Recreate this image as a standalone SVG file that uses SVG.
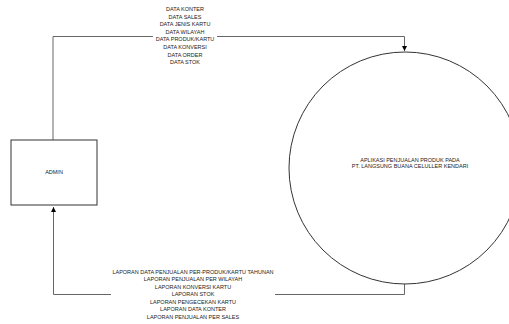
<svg xmlns="http://www.w3.org/2000/svg" width="509" height="324" viewBox="0 0 509 324">
<defs>
<marker id="arr" viewBox="0 0 10 10" refX="10" refY="5" markerWidth="5" markerHeight="5" orient="auto"><path d="M0,0 L10,5 L0,10 z" fill="#000"/></marker>
<style>
text{font-family:"Liberation Sans",Arial,sans-serif;font-size:5.5px;fill:#222;text-anchor:middle}
.node{fill:#fff;stroke:#333;stroke-width:1}
.conn{fill:none;stroke:#666;stroke-width:1}
.lbg{fill:#fff}
</style>
</defs>
<rect width="509" height="324" fill="#fff"/>
<g id="connectors">
<path class="conn" d="M53,140 L53,36.5 L404.5,36.5 L404.5,51" marker-end="url(#arr)"/>
<path class="conn" d="M404.5,284 L404.5,294.5 L53.5,294.5 L53.5,207" marker-end="url(#arr)"/>
</g>
<g id="admin">
<rect class="node" x="11" y="140" width="86" height="65"/>
<text x="54" y="174">ADMIN</text>
</g>
<g id="aplikasi">
<circle class="node" cx="405" cy="168" r="116"/>
<text x="410" y="162">APLIKASI PENJUALAN PRODUK PADA</text>
<text x="410" y="168">PT. LANGSUNG BUANA CELULLER KENDARI</text>
</g>
<g id="label-top">
<rect class="lbg" x="153" y="5" width="64" height="61"/>
<text x="185" y="11">DATA KONTER</text>
<text x="185" y="18.6">DATA SALES</text>
<text x="185" y="26.2">DATA JENIS KARTU</text>
<text x="185" y="33.8">DATA WILAYAH</text>
<text x="185" y="41.4">DATA PRODUK/KARTU</text>
<text x="185" y="49">DATA KONVERSI</text>
<text x="185" y="56.6">DATA ORDER</text>
<text x="185" y="64.2">DATA STOK</text>
</g>
<g id="label-bottom">
<rect class="lbg" x="111" y="267" width="164" height="54"/>
<text x="193" y="273.5">LAPORAN DATA PENJUALAN PER-PRODUK/KARTU TAHUNAN</text>
<text x="193" y="281">LAPORAN PENJUALAN PER WILAYAH</text>
<text x="193" y="288.5">LAPORAN KONVERSI KARTU</text>
<text x="193" y="296">LAPORAN STOK</text>
<text x="193" y="303.5">LAPORAN PENGECEKAN KARTU</text>
<text x="193" y="311">LAPORAN DATA KONTER</text>
<text x="193" y="318.5">LAPORAN PENJUALAN PER SALES</text>
</g>
</svg>
